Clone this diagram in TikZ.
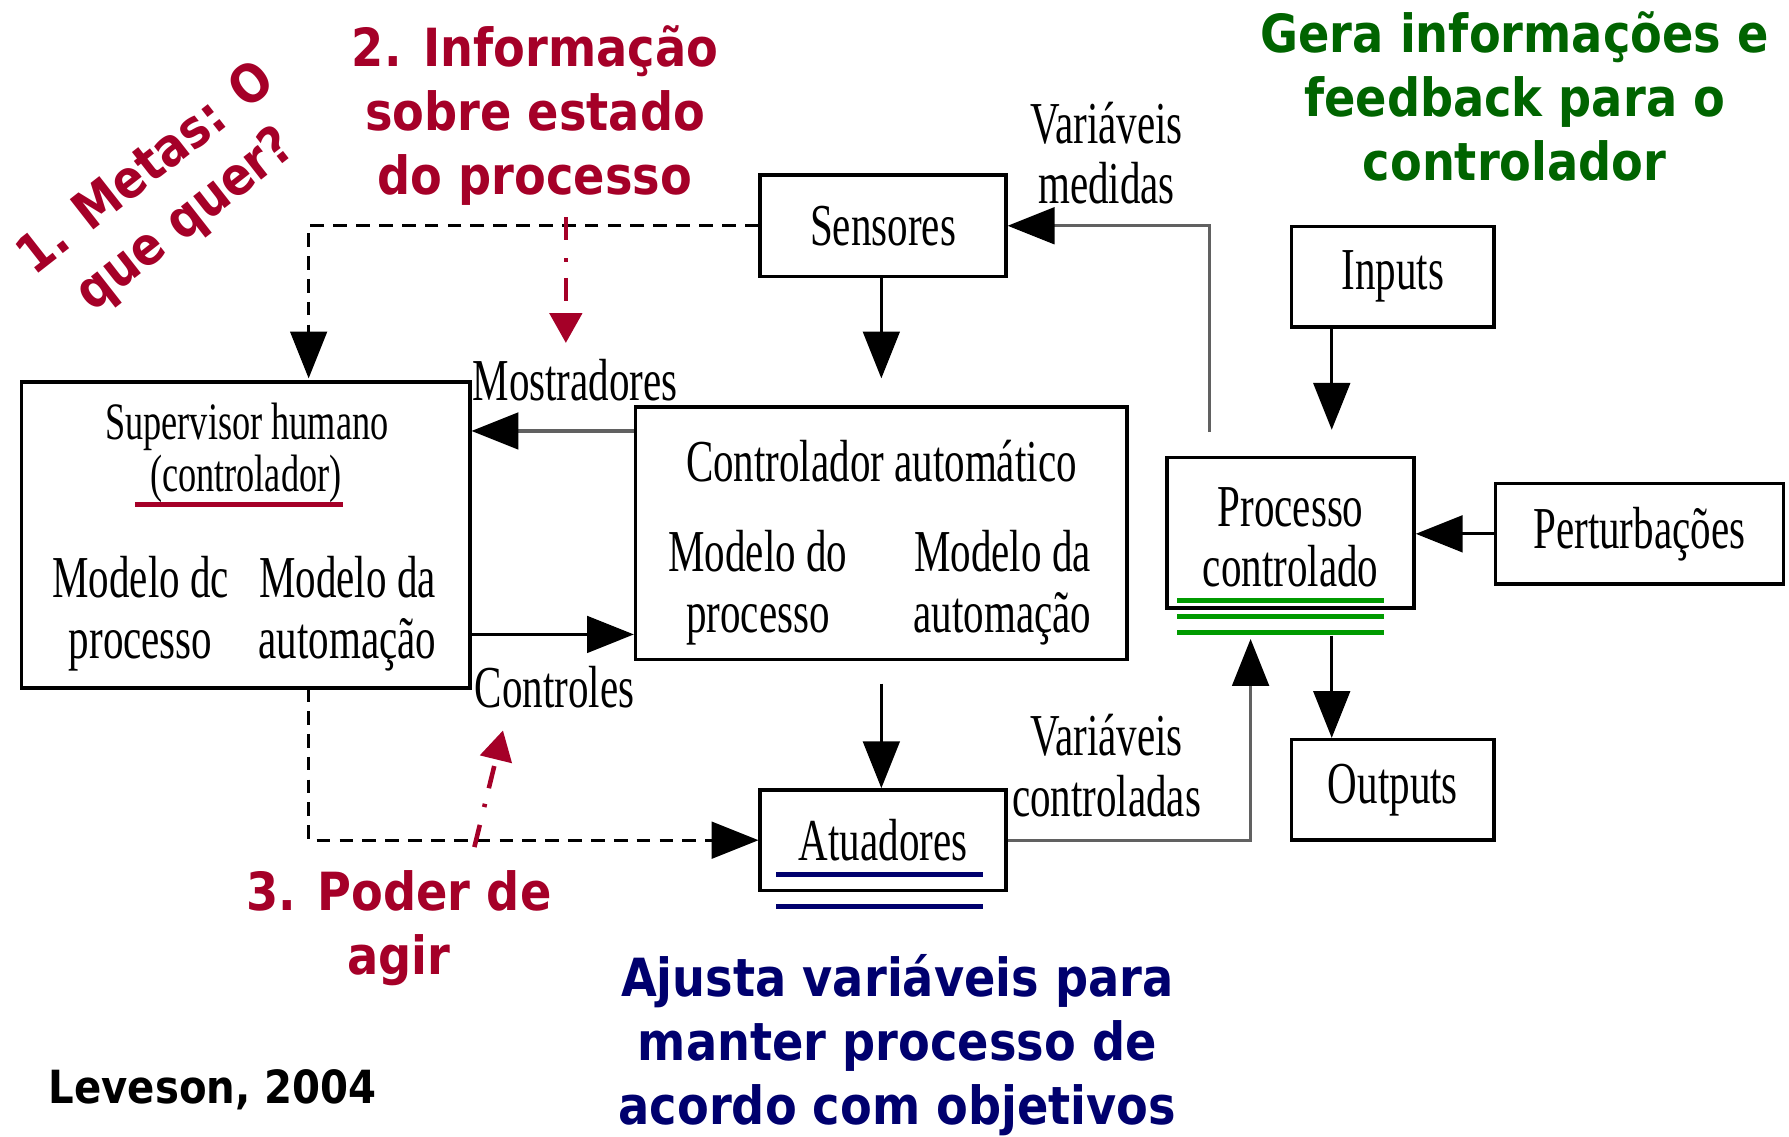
\documentclass[tikz,border=0pt]{standalone}
\usepackage{fontspec}
\usetikzlibrary{arrows.meta}
\newfontfamily\tnr[FakeStretch=0.69]{Liberation Serif}
\newfontfamily\comic[FakeStretch=0.88]{DejaVu Sans}
\newcommand\tmsbig{\tnr\fontsize{26}{26.5}\selectfont}
\newcommand\tmssmall{\tnr\fontsize{23}{24}\selectfont}
\newcommand\cmcfont{\comic\bfseries\fontsize{23}{28}\selectfont}
\definecolor{cred}{RGB}{165,0,40}
\definecolor{cgreen}{RGB}{0,100,0}
\definecolor{lgreen}{RGB}{0,155,0}
\definecolor{cnavy}{RGB}{0,0,110}
\begin{document}
\begin{tikzpicture}[x=0.5pt,y=-0.5pt,
  box/.style={draw, line width=1.5pt, inner sep=0pt, font=\tmsbig},
  lbl/.style={inner sep=0pt, align=center, font=\tmsbig},
  slbl/.style={inner sep=0pt, align=center, font=\tmssmall},
  note/.style={inner sep=0pt, align=center, font=\cmcfont},
  arr/.style={line width=1.4pt, -{Triangle[width=16pt,length=20.5pt,color=black]}},
  garr/.style={arr, draw=black!62},
  darr/.style={arr, dash pattern=on 6pt off 4pt},
  rarr/.style={draw=cred, line width=2pt, dash pattern=on 10pt off 8pt on 1.5pt off 7pt, -{Triangle[width=14pt,length=13pt]}},
  bar/.style={line width=2.2pt}
]
\useasboundingbox (0,0) rectangle (1565,994);

% boxes
\node[box, minimum width=107.5pt, minimum height=44.5pt] (sens) at (772.5,197.5) {Sensores};
\node[box, minimum width=215pt, minimum height=110.5pt] (ctrl) at (771,466.5) {};
\node[lbl] (ctrlt) at (771,403) {Controlador automático};
\node[lbl] (ctrlm1) at (663,514) {Modelo do\\processo};
\node[lbl] (ctrlm2) at (877,514) {Modelo da\\automação};

\node[box, minimum width=196pt, minimum height=134pt] (sup) at (215,468) {};
\node[slbl] (supt) at (216,373) {Supervisor humano};
\node[slbl] (supc) at (215,419) {(controlador)};
\node[lbl] (supm1) at (123,537) {Modelo dc\\processo};
\node[lbl] (supm2) at (304,537) {Modelo da\\automação};

\node[box, minimum width=88.5pt, minimum height=44pt] (inp) at (1218.5,242) {Inputs};
\node[box, minimum width=108pt, minimum height=66pt] (proc) at (1129,466) {};
\node[lbl] (proct) at (1129,470) {Processo\\controlado};
\node[box, minimum width=126pt, minimum height=44pt] (pert) at (1434,467) {Perturbações};
\node[box, minimum width=88.5pt, minimum height=44pt] (outp) at (1218.5,691) {Outputs};
\node[box, minimum width=107.5pt, minimum height=44pt] (atu) at (772.5,735) {Atuadores};

% connector labels
\node[lbl] (lmed) at (968,134) {Variáveis\\medidas};
\node[lbl] (lctl) at (968,670) {Variáveis\\controladas};
\node[lbl, anchor=west] (lmos) at (413,333) {Mostradores};
\node[lbl, anchor=west] (lcon) at (415,601) {Controles};

% underlines / bars
\draw[cred, bar] (118,441) -- (300,441);
\draw[lgreen, bar] (1030,525) -- (1211,525);
\draw[lgreen, bar] (1030,539.5) -- (1211,539.5);
\draw[lgreen, bar] (1030,553.5) -- (1211,553.5);
\draw[cnavy, bar] (679,765) -- (860,765);
\draw[cnavy, bar] (679,793) -- (860,793);

% coordinates
\coordinate (c1) at (771,331);
\coordinate (c2) at (1165,376);
\coordinate (c3) at (1165,556);
\coordinate (c4) at (1058,378);
\coordinate (c5) at (1094,559);
\coordinate (c8) at (270,331);
\coordinate (c9) at (270,602);
\coordinate (c10) at (771,598);
\coordinate (ym) at (0,377);
\coordinate (yc) at (0,555);

% connectors
\draw[arr] (sens.south -| c1) -- (c1);
\draw[arr] (inp.south -| c2) -- (c2);
\draw[arr] (c3) -- (outp.north -| c3);
\draw[arr] (pert.west) -- (proc.east |- pert.west);
\draw[garr] (c4) |- (sens.east);
\draw[garr] (atu.east) -| (c5);
\draw[garr] (ctrl.west |- ym) -- (sup.east |- ym);
\draw[arr] (sup.east |- yc) -- (ctrl.west |- yc);
\draw[arr] (c10) -- (atu.north -| c10);
\draw[darr] (sens.west) -| (c8);
\draw[darr] (c9) |- (atu.west);

% red annotation arrows
\coordinate (r2a) at (495,190);
\coordinate (r2b) at (495,300);
\coordinate (r3a) at (415,741);
\coordinate (r3b) at (440,639);
\draw[rarr] (r2a) -- (r2b);
\draw[rarr] (r3a) -- (r3b);

% annotations
\node[note, text=cred, rotate=38] (meta) at (146,171) {1. Metas: O\\que quer?};
\node[note, text=cred] (info) at (468,101) {2. Informação\\sobre estado\\do processo};
\node[note, text=cred] (poder) at (349,812) {3. Poder de\\agir};
\node[note, text=cgreen] (gera) at (1325,84) {Gera informações e\\feedback para o\\controlador};
\node[note, text=cnavy] (ajusta) at (785,914) {Ajusta variáveis para\\manter processo de\\acordo com objetivos};
\node[inner sep=0pt, font={\comic\bfseries\fontsize{20}{24}\selectfont}] (lev) at (186,953) {Leveson, 2004};
\end{tikzpicture}
\end{document}
